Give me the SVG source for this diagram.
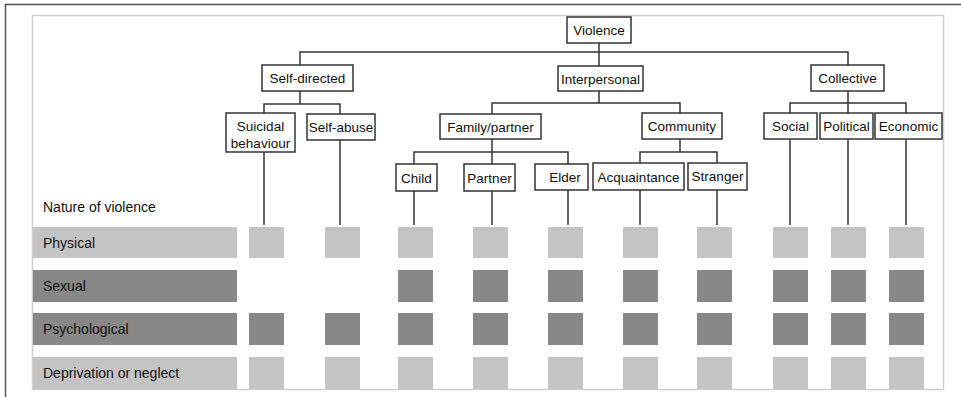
<svg xmlns="http://www.w3.org/2000/svg" width="961" height="397" viewBox="0 0 961 397">
<style>
.box{fill:#fff;stroke:#333;stroke-width:1.5}
.t{font-family:"Liberation Sans",Arial,sans-serif;font-size:13.5px;fill:#111}
.r{font-size:14px}
.c{text-anchor:middle}
.lt{fill:#c4c4c4}
.dk{fill:#888}
.con{fill:none;stroke:#333;stroke-width:1.5}
</style>
<rect width="961" height="397" fill="#fff"/>
<path d="M5.5,397 V4.5 H961" fill="none" stroke="#555" stroke-width="1.5"/>
<rect x="32.5" y="15.5" width="911" height="374" fill="#fff" stroke="#cfcfcf" stroke-width="1.5"/>

<g id="connectors" class="con">
<path d="M599,43 V66"/>
<path d="M300,65 V52 H848 V65"/>
<path d="M300,91 V104"/>
<path d="M264,113 V104 H340 V114"/>
<path d="M599,91 V103"/>
<path d="M492,114 V103 H680 V113"/>
<path d="M848,91 V113"/>
<path d="M790,113 V103 H906 V113"/>
<path d="M492,139 V164"/>
<path d="M414,164 V152 H568 V164"/>
<path d="M680,139 V152"/>
<path d="M640,163 V152 H717 V163"/>
<path d="M264,152 V225"/>
<path d="M340,140 V225"/>
<path d="M414,191 V225"/>
<path d="M492,191 V225"/>
<path d="M568,190 V225"/>
<path d="M640,190 V225"/>
<path d="M717,190 V225"/>
<path d="M790,139 V225"/>
<path d="M848,139 V225"/>
<path d="M906,139 V225"/>
</g>

<g id="violence"><rect class="box" x="567" y="17" width="64" height="26"/><text class="t c" x="599" y="35">Violence</text></g>
<g id="self-directed"><rect class="box" x="262" y="65" width="91" height="26"/><text class="t c" x="307.5" y="83">Self-directed</text></g>
<g id="interpersonal"><rect class="box" x="558" y="66" width="85" height="25"/><text class="t c" x="600.5" y="83.5">Interpersonal</text></g>
<g id="collective"><rect class="box" x="811" y="65" width="73" height="26"/><text class="t c" x="847.5" y="83">Collective</text></g>
<g id="suicidal"><rect class="box" x="226" y="113" width="69" height="39"/><text class="t c" x="260.5" y="130.5">Suicidal</text><text class="t c" x="260.5" y="147.5">behaviour</text></g>
<g id="self-abuse"><rect class="box" x="307" y="114" width="68" height="26"/><text class="t c" x="341" y="132">Self-abuse</text></g>
<g id="family-partner"><rect class="box" x="440" y="114" width="101" height="25"/><text class="t c" x="490.5" y="131.5">Family/partner</text></g>
<g id="community"><rect class="box" x="642" y="113" width="80" height="26"/><text class="t c" x="682" y="131">Community</text></g>
<g id="social"><rect class="box" x="764" y="113" width="53" height="26"/><text class="t c" x="790.5" y="131">Social</text></g>
<g id="political"><rect class="box" x="820" y="113" width="53" height="26"/><text class="t c" x="846.5" y="131">Political</text></g>
<g id="economic"><rect class="box" x="875" y="113" width="67" height="26"/><text class="t c" x="908.5" y="131">Economic</text></g>
<g id="child"><rect class="box" x="396" y="164" width="41" height="27"/><text class="t c" x="416.5" y="182.5">Child</text></g>
<g id="partner"><rect class="box" x="464" y="164" width="51" height="27"/><text class="t c" x="489.5" y="182.5">Partner</text></g>
<g id="elder"><rect class="box" x="535" y="164" width="53" height="26"/><text class="t c" x="565" y="182">Elder</text></g>
<g id="acquaintance"><rect class="box" x="593" y="163" width="91" height="27"/><text class="t c" x="638.5" y="181.5">Acquaintance</text></g>
<g id="stranger"><rect class="box" x="688" y="163" width="59" height="27"/><text class="t c" x="717.5" y="180.5">Stranger</text></g>

<g id="nature-label"><text class="t r" x="43" y="212">Nature of violence</text></g>

<g id="row-physical">
<rect class="lt" x="33" y="227" width="204" height="31"/>
<text class="t r" x="43" y="248">Physical</text>
<rect class="lt" x="249" y="227" width="35" height="31"/>
<rect class="lt" x="325" y="227" width="35" height="31"/>
<rect class="lt" x="398" y="227" width="35" height="31"/>
<rect class="lt" x="473" y="227" width="35" height="31"/>
<rect class="lt" x="548" y="227" width="35" height="31"/>
<rect class="lt" x="623" y="227" width="35" height="31"/>
<rect class="lt" x="697" y="227" width="35" height="31"/>
<rect class="lt" x="773" y="227" width="35" height="31"/>
<rect class="lt" x="831" y="227" width="35" height="31"/>
<rect class="lt" x="889" y="227" width="35" height="31"/>
</g>
<g id="row-sexual">
<rect class="dk" x="33" y="270" width="204" height="32"/>
<text class="t r" x="43" y="291">Sexual</text>
<rect class="dk" x="398" y="270" width="35" height="32"/>
<rect class="dk" x="473" y="270" width="35" height="32"/>
<rect class="dk" x="548" y="270" width="35" height="32"/>
<rect class="dk" x="623" y="270" width="35" height="32"/>
<rect class="dk" x="697" y="270" width="35" height="32"/>
<rect class="dk" x="773" y="270" width="35" height="32"/>
<rect class="dk" x="831" y="270" width="35" height="32"/>
<rect class="dk" x="889" y="270" width="35" height="32"/>
</g>
<g id="row-psychological">
<rect class="dk" x="33" y="313" width="204" height="32"/>
<text class="t r" x="43" y="334">Psychological</text>
<rect class="dk" x="249" y="313" width="35" height="32"/>
<rect class="dk" x="325" y="313" width="35" height="32"/>
<rect class="dk" x="398" y="313" width="35" height="32"/>
<rect class="dk" x="473" y="313" width="35" height="32"/>
<rect class="dk" x="548" y="313" width="35" height="32"/>
<rect class="dk" x="623" y="313" width="35" height="32"/>
<rect class="dk" x="697" y="313" width="35" height="32"/>
<rect class="dk" x="773" y="313" width="35" height="32"/>
<rect class="dk" x="831" y="313" width="35" height="32"/>
<rect class="dk" x="889" y="313" width="35" height="32"/>
</g>
<g id="row-deprivation">
<rect class="lt" x="33" y="357" width="204" height="32"/>
<text class="t r" x="43" y="378">Deprivation or neglect</text>
<rect class="lt" x="249" y="357" width="35" height="32"/>
<rect class="lt" x="325" y="357" width="35" height="32"/>
<rect class="lt" x="398" y="357" width="35" height="32"/>
<rect class="lt" x="473" y="357" width="35" height="32"/>
<rect class="lt" x="548" y="357" width="35" height="32"/>
<rect class="lt" x="623" y="357" width="35" height="32"/>
<rect class="lt" x="697" y="357" width="35" height="32"/>
<rect class="lt" x="773" y="357" width="35" height="32"/>
<rect class="lt" x="831" y="357" width="35" height="32"/>
<rect class="lt" x="889" y="357" width="35" height="32"/>
</g>
</svg>
